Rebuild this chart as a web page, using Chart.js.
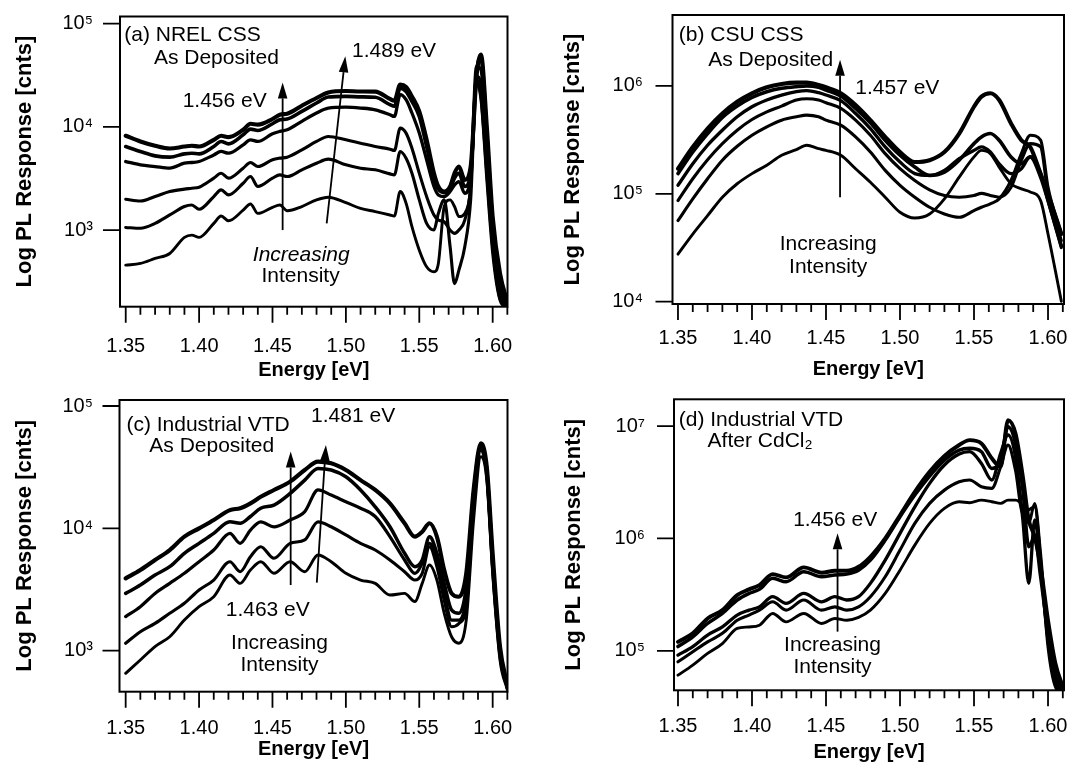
<!DOCTYPE html>
<html>
<head>
<meta charset="utf-8">
<title>Log PL spectra</title>
<script src="https://cdn.jsdelivr.net/npm/chart.js@4.4.1/dist/chart.umd.min.js"></script>
<style>
  html, body { margin: 0; padding: 0; background: #fff; }
  #wrap { position: relative; width: 1072px; height: 767px; overflow: hidden; }
  #wrap canvas { position: absolute; }
</style>
</head>
<body>
<div id="wrap">
  <canvas id="pa" width="536" height="383" style="left:0;top:0"></canvas>
  <canvas id="pb" width="536" height="383" style="left:536px;top:0"></canvas>
  <canvas id="pc" width="536" height="384" style="left:0;top:383px"></canvas>
  <canvas id="pd" width="536" height="384" style="left:536px;top:383px"></canvas>
</div>
<script>
// ---------- tick labels ----------
const X_TICKS = [1.35, 1.40, 1.45, 1.50, 1.55, 1.60];
const Y_TICKS_A = [1e3, 1e4, 1e5];
const Y_TICKS_B = [1e4, 1e5, 1e6];
const Y_TICKS_C = [1e3, 1e4, 1e5];
const Y_TICKS_D = [1e5, 1e6, 1e7];
const SUPERSCRIPT = { 3: '\u00B3', 4: '\u2074', 5: '\u2075', 6: '\u2076', 7: '\u2077' };

// ---------- (a) NREL CSS, as deposited ----------
const ENERGY_A = [1.350,1.360,1.370,1.380,1.390,1.395,1.400,1.410,1.415,1.420,1.430,1.435,1.440,1.450,1.455,1.460,1.470,1.480,1.488,1.500,1.510,1.520,1.530,1.533,1.537,1.541,1.545,1.550,1.555,1.560,1.563,1.567,1.571,1.574,1.577,1.581,1.585,1.589,1.592,1.596,1.600,1.605,1.610];
const NREL_1 = [457,475,531,593,849,894,849,1160,1370,1230,1560,1790,1450,1660,1750,1540,1690,1960,2080,1840,1620,1510,1400,1370,2360,1820,1080,639,441,394,475,1690,1960,1690,1350,1450,2640,26500,18300,3060,593,209,173];
const NREL_2 = [1060,1040,1160,1400,1690,1750,1590,2110,2450,2190,2840,3300,2640,3180,3420,3300,3830,4440,4860,4280,3970,3830,3500,3420,5770,4970,3550,1960,1160,1000,1450,1960,689,303,409,689,1960,28600,19700,3550,689,217,180];
const NREL_3 = [1990,1910,2110,2360,2490,2540,2600,3180,3550,3180,3970,4510,4120,4790,4970,5080,5980,7210,8060,7480,6940,6440,6070,5890,9700,8690,6210,3550,2110,1400,1250,1200,1000,929,1000,1250,2640,30800,26500,4790,800,225,180];
const NREL_4 = [4610,4280,4120,3970,4440,4510,4610,5340,5770,5550,6690,7480,7210,8560,9020,9360,11300,13600,15200,15500,15200,14600,13100,12600,20500,18300,13600,8690,4790,2640,2190,2110,2360,2740,2950,2270,3300,38500,35800,6440,929,243,187];
const NREL_5 = [6440,5770,5230,5080,5470,5550,5470,6440,7210,6840,8360,9490,9210,10700,11700,11900,14100,17000,19400,19700,19500,19300,16400,15800,23700,22000,17600,12600,6440,3180,2490,2300,2540,3180,3550,2640,3550,33200,46400,8690,1160,282,194];
const NREL_6 = [8190,7210,6550,6160,6440,6550,6440,7480,8190,7940,9360,10700,10500,11900,13100,13400,16000,19000,21500,22200,22000,21900,18600,17900,25600,24300,19700,14100,7480,3550,2640,2360,2640,3550,4120,3060,4120,30800,50000,10100,1350,380,201];

// ---------- (b) CSU CSS, as deposited ----------
const ENERGY_B = [1.350,1.360,1.370,1.380,1.390,1.400,1.410,1.420,1.430,1.437,1.445,1.450,1.460,1.470,1.480,1.490,1.500,1.510,1.520,1.530,1.540,1.550,1.555,1.561,1.567,1.575,1.582,1.588,1.595,1.600,1.609];
const CSU_1 = [27600,42400,62800,93100,124000,154000,184000,228000,257000,282000,262000,253000,228000,171000,128000,93100,67500,59700,65100,89800,143000,220000,253000,236000,177000,124000,111000,104000,86600,42400,10100];
const CSU_2 = [56500,89800,138000,205000,276000,349000,418000,482000,518000,537000,518000,482000,433000,337000,244000,165000,120000,93100,75100,65100,60600,70000,75100,80800,89800,133000,236000,349000,314000,115000,42400];
const CSU_3 = [86600,138000,207000,292000,389000,489000,576000,651000,741000,762000,741000,699000,619000,482000,349000,236000,171000,133000,109000,96500,93100,96500,101000,96500,93100,115000,205000,292000,272000,100000,36700];
const CSU_4 = [120000,190000,282000,389000,518000,642000,741000,824000,885000,905000,866000,824000,730000,556000,403000,272000,197000,154000,148000,165000,212000,253000,272000,244000,190000,154000,171000,220000,154000,86600,31800];
const CSU_5 = [154000,244000,362000,511000,651000,784000,885000,951000,986000,1000000,972000,918000,807000,619000,455000,314000,228000,177000,148000,159000,205000,292000,337000,362000,314000,220000,190000,220000,143000,86600,33000];
const CSU_6 = [171000,272000,403000,556000,714000,855000,972000,1044000,1074000,1074000,1020000,972000,855000,665000,482000,337000,244000,197000,205000,244000,362000,642000,796000,855000,741000,449000,314000,272000,154000,100000,42400];

// ---------- (c) Industrial VTD, as deposited ----------
const ENERGY_C = [1.350,1.360,1.370,1.380,1.390,1.400,1.410,1.421,1.428,1.435,1.442,1.451,1.462,1.472,1.481,1.490,1.500,1.510,1.520,1.530,1.540,1.547,1.552,1.557,1.562,1.567,1.572,1.577,1.582,1.587,1.592,1.596,1.600,1.605,1.610];
const VTD_1 = [653,839,1080,1300,1780,2290,2760,4150,3550,4560,5340,4290,5340,4420,6060,5340,4290,3780,3550,2850,2940,2520,3550,5010,3780,2020,1300,1150,1780,11700,38500,24800,4290,839,477];
const VTD_2 = [1150,1430,1670,2020,2440,3130,3780,5340,4420,5870,7080,5690,7540,8040,11300,10300,8830,7540,6650,5510,4420,3780,4290,7080,4860,2590,1570,1670,2290,15000,43700,26400,4560,893,492];
const VTD_3 = [1900,2290,2940,3550,4290,5340,6650,9100,7540,9690,11300,10300,11700,13700,20600,18700,16500,14600,12500,8550,5510,4290,5180,7540,5510,2940,1780,1780,2760,17100,46500,28200,4860,951,492];
const VTD_4 = [2940,3440,4150,4860,6250,7540,9100,11300,11000,12500,14600,15500,19300,24800,30900,30000,26400,20600,15000,10300,6250,4860,5510,8550,6250,3550,2150,2020,3340,19300,48000,30000,5510,1010,508];
const VTD_5 = [3900,4560,5510,6650,8550,10000,11700,14100,14600,16000,18100,20600,24100,30000,35100,34000,30000,24800,20600,16000,11000,8550,9390,11000,8550,4560,2940,2760,4290,20600,49500,31900,6250,1080,524];

// ---------- (d) Industrial VTD, after CdCl2 ----------
const ENERGY_D = [1.350,1.360,1.370,1.380,1.390,1.398,1.405,1.414,1.423,1.435,1.447,1.456,1.464,1.472,1.480,1.490,1.500,1.510,1.520,1.530,1.540,1.547,1.555,1.562,1.568,1.573,1.578,1.583,1.587,1.591,1.595,1.600,1.605,1.610];
const CDCL_1 = [60700,74600,94700,116000,158000,163000,169000,215000,181000,215000,175000,194000,187000,198000,230000,324000,522000,872000,1360000,1850000,2120000,2080000,2190000,2120000,2050000,2190000,2190000,1910000,1360000,2050000,735000,124000,51200,41700];
const CDCL_2 = [79800,98000,120000,143000,187000,208000,230000,273000,230000,283000,230000,246000,230000,246000,303000,456000,787000,1360000,2050000,2690000,3190000,3310000,2880000,2790000,4350000,6780000,4060000,1670000,1790000,1910000,641000,109000,47800,41700];
const CDCL_3 = [91500,109000,138000,163000,208000,230000,246000,303000,264000,324000,273000,303000,283000,303000,398000,641000,1110000,1910000,3090000,4500000,5630000,5910000,4650000,3310000,5710000,8320000,5330000,1460000,398000,1460000,559000,124000,54800,43200];
const CDCL_4 = [109000,133000,175000,215000,283000,324000,352000,441000,411000,505000,456000,472000,481000,522000,641000,966000,1560000,2430000,3590000,4980000,6110000,6330000,5910000,4200000,4980000,9860000,7010000,2690000,843000,1030000,456000,143000,62800,44700];
const CDCL_5 = [120000,143000,194000,230000,313000,352000,384000,481000,450000,552000,495000,515000,515000,559000,687000,1000000,1610000,2600000,3920000,5410000,6780000,7500000,7010000,5160000,4350000,11300000,8610000,3540000,1460000,1030000,559000,187000,77200,47800];

// ---------- drawing helpers ----------
const FAMILY = '"Liberation Sans", Arial, Helvetica, sans-serif';

function drawArrow(ctx, x0, y0, x1, y1) {
  const ang = Math.atan2(y1 - y0, x1 - x0);
  const L = 16, W = 4.8;
  const bx = x1 - L * Math.cos(ang), by = y1 - L * Math.sin(ang);
  ctx.lineWidth = 1.8;
  ctx.beginPath(); ctx.moveTo(x0, y0); ctx.lineTo(bx, by); ctx.stroke();
  ctx.beginPath();
  ctx.moveTo(x1, y1);
  ctx.lineTo(bx + W * Math.sin(ang), by - W * Math.cos(ang));
  ctx.lineTo(bx - W * Math.sin(ang), by + W * Math.cos(ang));
  ctx.closePath(); ctx.fill();
}

// frame box, minor/major energy ticks and decade ticks
const axisMarks = {
  id: 'axisMarks',
  afterDatasetsDraw(chart) {
    const { ctx, chartArea: a, scales: { x, y } } = chart;
    ctx.save();
    ctx.strokeStyle = '#000';
    ctx.lineWidth = 2;
    ctx.strokeRect(a.left, a.top, a.right - a.left, a.bottom - a.top);
    ctx.lineWidth = 1.8;
    ctx.beginPath();
    for (let k = 135; k <= 161; k++) {
      const v = k / 100;
      if (v < x.min - 1e-9 || v > x.max + 1e-9) continue;
      const px = x.getPixelForValue(v);
      const len = (k % 5 === 0) ? 16 : 8;
      ctx.moveTo(px, a.bottom);
      ctx.lineTo(px, a.bottom + len);
    }
    for (const t of y.ticks) {
      const py = y.getPixelForValue(t.value);
      ctx.moveTo(a.left - 17, py);
      ctx.lineTo(a.left, py);
    }
    ctx.stroke();
    ctx.restore();
  }
};

function notesPlugin(texts, arrows) {
  return {
    id: 'notes',
    afterDatasetsDraw(chart) {
      const { ctx, scales: { x, y } } = chart;
      ctx.save();
      ctx.fillStyle = '#000';
      ctx.strokeStyle = '#000';
      ctx.textBaseline = 'middle';
      for (const t of texts) {
        ctx.font = (t.italic ? 'italic ' : '') + '21px ' + FAMILY;
        ctx.textAlign = t.align || 'left';
        ctx.fillText(t.text, x.getPixelForValue(t.x), y.getPixelForValue(t.y));
      }
      for (const r of arrows) {
        drawArrow(ctx, x.getPixelForValue(r.x0), y.getPixelForValue(r.y0),
                       x.getPixelForValue(r.x1), y.getPixelForValue(r.y1));
      }
      ctx.restore();
    }
  };
}

function makePanel(id, p) {
  const datasets = p.series.map((vals, i) => ({
    data: vals.map((v, k) => ({ x: p.energy[k], y: v })),
    borderColor: '#000',
    borderWidth: p.widths[i],
    borderJoinStyle: 'round',
    borderCapStyle: 'round',
    pointRadius: 0,
    fill: false,
    cubicInterpolationMode: 'monotone'
  }));
  return new Chart(document.getElementById(id), {
    type: 'line',
    data: { datasets },
    options: {
      responsive: false,
      animation: false,
      devicePixelRatio: 1,
      events: [],
      layout: { padding: { left: 0, top: p.box.top, right: p.box.right, bottom: 0 } },
      plugins: { legend: { display: false }, tooltip: { enabled: false } },
      scales: {
        x: {
          type: 'linear',
          position: 'bottom',
          min: p.xMin, max: p.xMax,
          afterBuildTicks: s => { s.ticks = X_TICKS.map(v => ({ value: v })); },
          afterFit: s => {
            s.height = p.box.xH;
            s.paddingLeft = 0; s.paddingRight = 0;
          },
          grid: { display: false, drawTicks: false },
          border: { display: false },
          ticks: {
            autoSkip: false, maxRotation: 0, minRotation: 0,
            padding: p.xLabelPad, color: '#000',
            font: { family: FAMILY, size: 20 },
            callback: v => Number(v).toFixed(2)
          },
          title: {
            display: true, text: 'Energy [eV]', color: '#000',
            font: { family: FAMILY, size: 20, weight: 'bold' },
            padding: { top: 0, bottom: p.xTitlePad }
          }
        },
        y: {
          type: 'logarithmic',
          min: p.yMin, max: p.yMax,
          afterBuildTicks: s => { s.ticks = p.yTicks.map(v => ({ value: v })); },
          afterFit: s => {
            s.width = p.box.yW;
            s.paddingTop = 0; s.paddingBottom = 0;
          },
          grid: { display: false, drawTicks: false },
          border: { display: false },
          ticks: {
            padding: p.yLabelPad, color: '#000',
            font: { family: FAMILY, size: 20 },
            callback: v => '10' + SUPERSCRIPT[Math.round(Math.log10(v))]
          },
          title: {
            display: true, text: 'Log PL Response [cnts]', color: '#000',
            font: { family: FAMILY, size: 22, weight: 'bold' },
            padding: { top: p.yTitlePad, bottom: 0 }
          }
        }
      }
    },
    plugins: [axisMarks, notesPlugin(p.texts, p.arrows)]
  });
}

Chart.defaults.font.family = FAMILY;

makePanel('pa', {
  energy: ENERGY_A,
  series: [NREL_1, NREL_2, NREL_3, NREL_4, NREL_5, NREL_6],
  widths: [2.9, 3.1, 3.1, 3.3, 3.6, 4.1],
  xMin: 1.3461, xMax: 1.6101, yMin: 181, yMax: 117000, yTicks: Y_TICKS_A,
  box: { top: 16.5, right: 28.5, yW: 120, xH: 76.3 },
  xLabelPad: 27.7, yLabelPad: 27, xTitlePad: 1, yTitlePad: 11.5,
  texts: [
    { text: '(a) NREL CSS', x: 1.349, y: 77000 },
    { text: 'As Deposited', x: 1.3692, y: 46000 },
    { text: '1.489 eV', x: 1.5042, y: 54000 },
    { text: '1.456 eV', x: 1.3888, y: 17600 },
    { text: 'Increasing', x: 1.4696, y: 571, align: 'center', italic: true },
    { text: 'Intensity', x: 1.4691, y: 357, align: 'center' }
  ],
  arrows: [
    { x0: 1.4569, y0: 1000, x1: 1.4569, y1: 26900 },
    { x0: 1.4869, y0: 1160, x1: 1.4996, y1: 48200 }
  ]
});

makePanel('pb', {
  energy: ENERGY_B,
  series: [CSU_1, CSU_2, CSU_3, CSU_4, CSU_5, CSU_6],
  widths: [2.9, 3.1, 3.1, 3.3, 3.6, 4.1],
  xMin: 1.3463, xMax: 1.6108, yMin: 9520, yMax: 4550000, yTicks: Y_TICKS_B,
  box: { top: 15, right: 8, yW: 136.5, xH: 79 },
  xLabelPad: 22.6, yLabelPad: 29.5, xTitlePad: 2, yTitlePad: 24,
  texts: [
    { text: '(b) CSU CSS', x: 1.3505, y: 2940000 },
    { text: 'As Deposited', x: 1.3704, y: 1750000 },
    { text: '1.457 eV', x: 1.4698, y: 950000 },
    { text: 'Increasing', x: 1.4515, y: 34200, align: 'center' },
    { text: 'Intensity', x: 1.4515, y: 20800, align: 'center' }
  ],
  arrows: [
    { x0: 1.4595, y0: 93000, x1: 1.4595, y1: 1750000 }
  ]
});

makePanel('pc', {
  energy: ENERGY_C,
  series: [VTD_1, VTD_2, VTD_3, VTD_4, VTD_5],
  widths: [2.9, 3.1, 3.2, 3.5, 4.1],
  xMin: 1.3458, xMax: 1.6101, yMin: 462, yMax: 112000, yTicks: Y_TICKS_C,
  box: { top: 17, right: 28.5, yW: 119.5, xH: 75.3 },
  xLabelPad: 24.4, yLabelPad: 26.5, xTitlePad: 6, yTitlePad: 11.5,
  texts: [
    { text: '(c) Industrial VTD', x: 1.3505, y: 70000 },
    { text: 'As Deposited', x: 1.3661, y: 46600 },
    { text: '1.481 eV', x: 1.4763, y: 82000 },
    { text: '1.463 eV', x: 1.4468, y: 2150, align: 'center' },
    { text: 'Increasing', x: 1.4548, y: 1150, align: 'center' },
    { text: 'Intensity', x: 1.4548, y: 764, align: 'center' }
  ],
  arrows: [
    { x0: 1.4624, y0: 3440, x1: 1.4624, y1: 42400 },
    { x0: 1.4802, y0: 3600, x1: 1.4864, y1: 48000 }
  ]
});

makePanel('pd', {
  energy: ENERGY_D,
  series: [CDCL_1, CDCL_2, CDCL_3, CDCL_4, CDCL_5],
  widths: [2.9, 3.1, 3.3, 3.5, 3.9],
  xMin: 1.3473, xMax: 1.6108, yMin: 44500, yMax: 17300000, yTicks: Y_TICKS_D,
  box: { top: 16.3, right: 8, yW: 138, xH: 76.7 },
  xLabelPad: 24, yLabelPad: 29, xTitlePad: 2.5, yTitlePad: 25,
  texts: [
    { text: '(d) Industrial VTD', x: 1.3505, y: 11300000 },
    { text: 'After CdCl\u2082', x: 1.370, y: 7260000 },
    { text: '1.456 eV', x: 1.4562, y: 1460000, align: 'center' },
    { text: 'Increasing', x: 1.4544, y: 112000, align: 'center' },
    { text: 'Intensity', x: 1.4544, y: 72000, align: 'center' }
  ],
  arrows: [
    { x0: 1.4578, y0: 148000, x1: 1.4578, y1: 1110000 }
  ]
});
</script>
</body>
</html>
